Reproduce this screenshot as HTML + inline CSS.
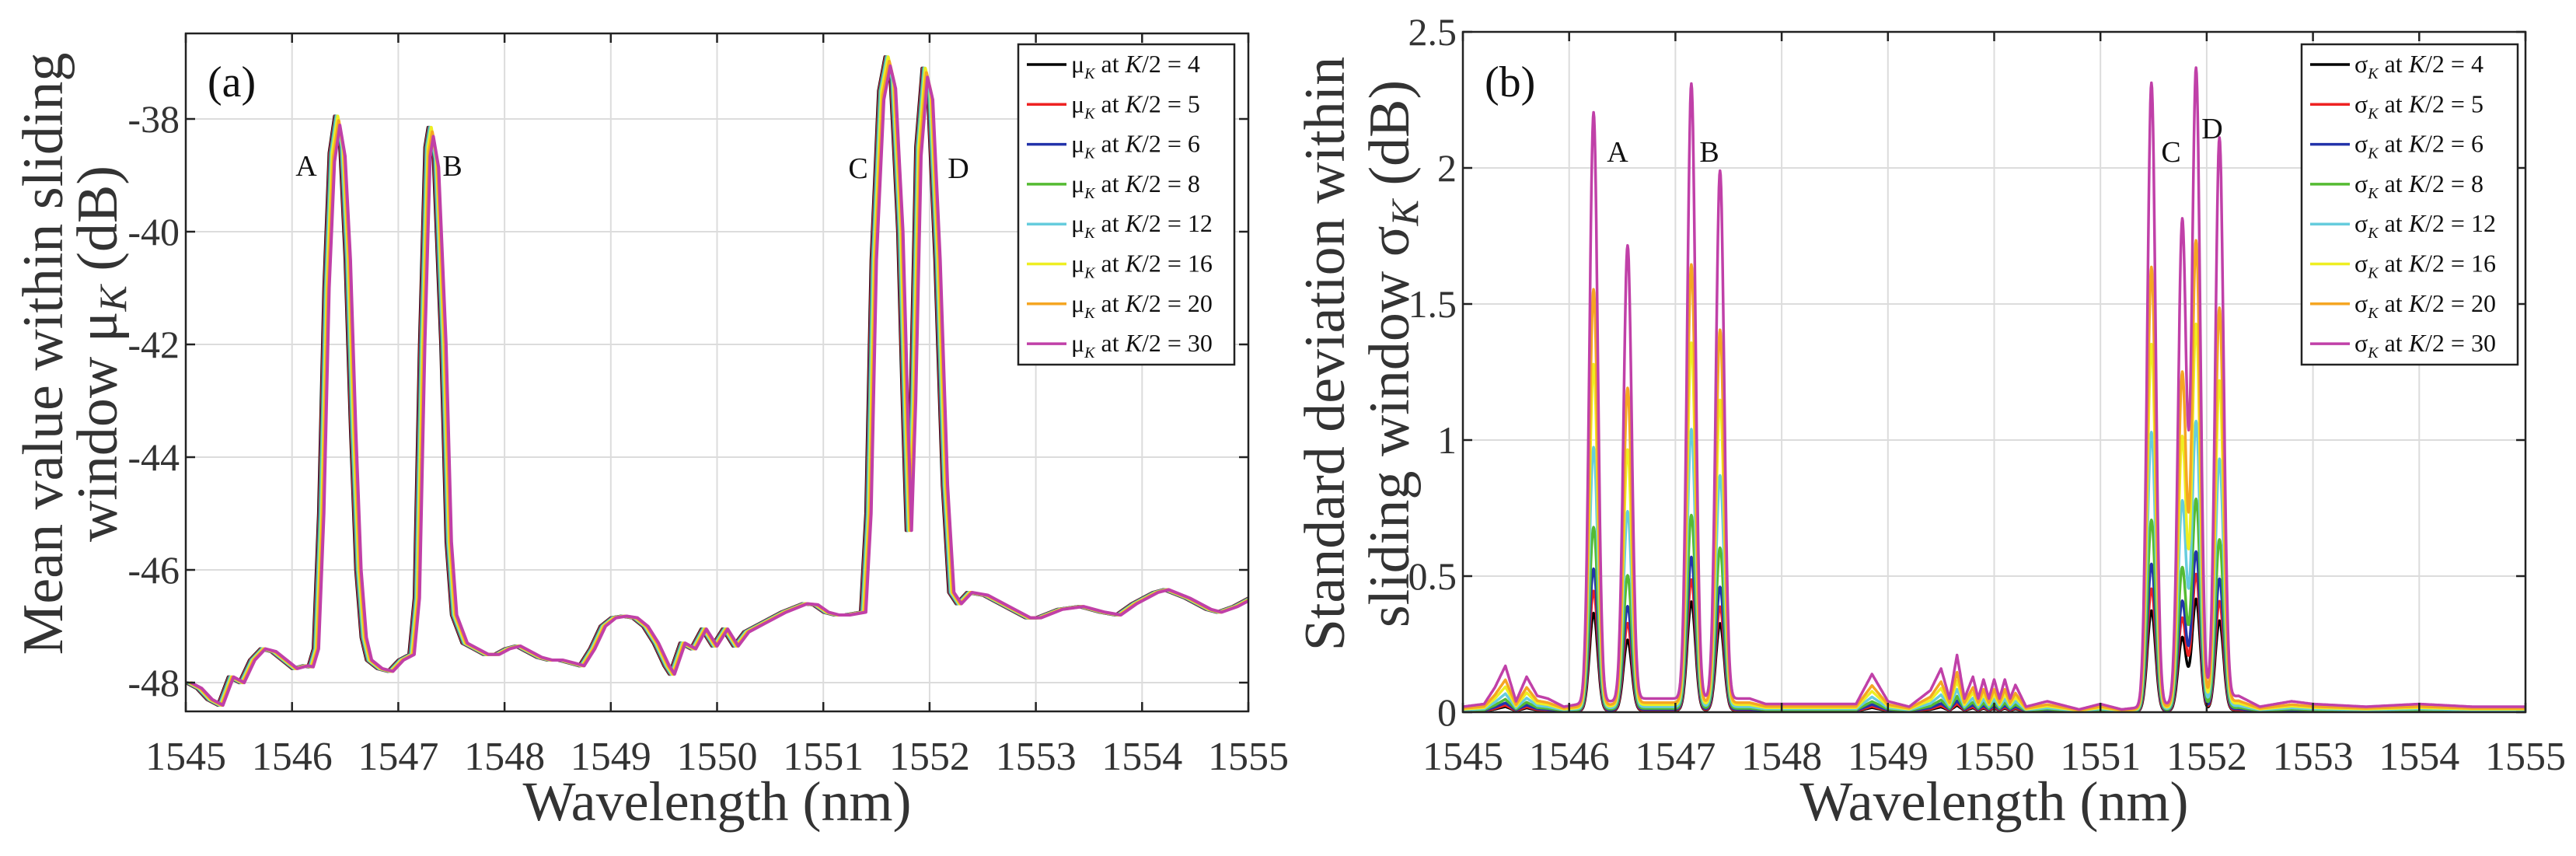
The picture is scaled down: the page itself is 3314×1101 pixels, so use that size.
<!DOCTYPE html>
<html><head><meta charset="utf-8"><style>
html,body{margin:0;padding:0;background:#fff;}
svg{display:block;font-family:"Liberation Serif",serif;}
</style></head><body>
<svg id="fig" width="3314" height="1101" viewBox="0 0 3314 1101" xmlns="http://www.w3.org/2000/svg"></svg>
<script>
const seriesNames = ['4','5','6','8','12','16','20','30'];
const seriesColors = ['#000000','#ee2222','#2233aa','#55bb33','#66ccdd','#eeee22','#f5a623','#c040a8'];
// panel (a) base curve
const muX = [1545,1545.1,1545.2,1545.3,1545.4,1545.5,1545.6,1545.7,1545.8,1545.9,1546.0,1546.1,1546.15,1546.2,1546.25,1546.3,1546.35,1546.4,1546.45,1546.5,1546.55,1546.6,1546.65,1546.7,1546.8,1546.9,1547.0,1547.1,1547.15,1547.2,1547.25,1547.28,1547.33,1547.4,1547.45,1547.5,1547.6,1547.7,1547.8,1547.9,1548.0,1548.1,1548.2,1548.3,1548.4,1548.5,1548.6,1548.7,1548.8,1548.9,1549.0,1549.1,1549.2,1549.3,1549.4,1549.5,1549.55,1549.65,1549.75,1549.85,1549.95,1550.05,1550.15,1550.25,1550.4,1550.6,1550.8,1550.9,1551.0,1551.1,1551.2,1551.35,1551.4,1551.45,1551.52,1551.58,1551.63,1551.7,1551.75,1551.78,1551.82,1551.87,1551.93,1551.98,1552.05,1552.12,1552.18,1552.25,1552.35,1552.5,1552.7,1552.9,1553.0,1553.2,1553.4,1553.6,1553.75,1553.9,1554.1,1554.2,1554.4,1554.6,1554.7,1554.85,1555];
const muY = [-48.0,-48.1,-48.3,-48.4,-47.9,-48.0,-47.6,-47.4,-47.45,-47.6,-47.75,-47.7,-47.72,-47.4,-45,-41,-38.6,-37.95,-38.5,-40.5,-43.5,-46,-47.2,-47.6,-47.75,-47.8,-47.6,-47.5,-46.5,-42,-38.5,-38.15,-38.7,-42,-45.5,-46.8,-47.3,-47.4,-47.5,-47.5,-47.4,-47.35,-47.45,-47.55,-47.6,-47.6,-47.65,-47.7,-47.4,-47.0,-46.85,-46.82,-46.85,-47.0,-47.3,-47.7,-47.85,-47.3,-47.4,-47.05,-47.35,-47.05,-47.35,-47.1,-46.95,-46.75,-46.6,-46.62,-46.75,-46.8,-46.8,-46.75,-45,-40.5,-37.5,-36.9,-37.3,-40,-43.5,-45.3,-43,-38.5,-37.1,-37.5,-40.5,-44.5,-46.4,-46.6,-46.4,-46.45,-46.65,-46.85,-46.85,-46.7,-46.65,-46.75,-46.8,-46.6,-46.4,-46.35,-46.5,-46.7,-46.75,-46.65,-46.5];
const muShift = [0,0.005,0.01,0.015,0.02,0.03,0.04,0.05];
// panel (b)
const sigPeakX = [1546.23,1546.55,1547.15,1547.42,1551.48,1551.77,1551.9,1552.12];
const sig4  = [0.36,0.26,0.40,0.32,0.37,0.27,0.41,0.33];
const sig5  = [0.44,0.32,0.48,0.38,0.45,0.34,0.50,0.40];
const sig6  = [0.52,0.38,0.56,0.45,0.54,0.40,0.58,0.48];
const sig8  = [0.67,0.49,0.71,0.59,0.70,0.52,0.77,0.62];
const sig12 = [0.96,0.72,1.02,0.85,1.02,0.76,1.05,0.91];
const sig16 = [1.26,0.94,1.33,1.12,1.34,0.99,1.40,1.19];
const sig20 = [1.53,1.16,1.61,1.37,1.62,1.22,1.70,1.45];
const sig30 = [2.17,1.67,2.26,1.94,2.29,1.77,2.32,2.06];
const sigBgX = [1545,1545.2,1545.3,1545.4,1545.5,1545.6,1545.7,1545.8,1545.95,1546.1,1546.7,1546.9,1547.7,1547.85,1548.0,1548.2,1548.5,1548.7,1548.85,1549.0,1549.2,1549.4,1549.5,1549.58,1549.65,1549.72,1549.8,1549.85,1549.9,1549.95,1550.0,1550.05,1550.1,1550.15,1550.2,1550.3,1550.5,1550.8,1551.0,1551.2,1552.3,1552.5,1552.8,1553.0,1553.5,1554.0,1554.5,1555];
const sigBgY = [0.02,0.03,0.09,0.17,0.04,0.13,0.06,0.05,0.02,0.03,0.05,0.05,0.05,0.03,0.03,0.03,0.03,0.03,0.14,0.04,0.02,0.08,0.16,0.05,0.21,0.05,0.13,0.05,0.12,0.05,0.12,0.05,0.12,0.05,0.1,0.02,0.04,0.01,0.03,0.01,0.06,0.02,0.04,0.03,0.02,0.03,0.02,0.02];
const sigBgScale = [0.12,0.15,0.2,0.28,0.4,0.55,0.7,1];
const sigSets = [sig4,sig5,sig6,sig8,sig12,sig16,sig20,sig30];

const NS='http://www.w3.org/2000/svg';
const svg=document.getElementById('fig');
function el(tag,attrs,parent){const e=document.createElementNS(NS,tag);for(const k in attrs)e.setAttribute(k,attrs[k]);(parent||svg).appendChild(e);return e;}
function interp(xs,ys,x){if(x<=xs[0])return ys[0];for(let i=1;i<xs.length;i++){if(x<=xs[i]){const t=(x-xs[i-1])/(xs[i]-xs[i-1]);return ys[i-1]+t*(ys[i]-ys[i-1]);}}return ys[ys.length-1];}

function drawPanel(o){
  const g=el('g',{});
  
  
  const X=v=>o.x0+(v-1545)/10*(o.x1-o.x0);
  const Y=v=>o.yb+(v-o.ymin)/(o.ymax-o.ymin)*(o.yt-o.yb);
  for(let v=1545;v<=1555;v++){const l=el('line',{x1:X(v),x2:X(v),y1:o.top,y2:o.bot,stroke:'#dcdcdc','stroke-width':2},g);}
  o.yticks.forEach(v=>{const l=el('line',{x1:o.x0,x2:o.x1,y1:Y(v),y2:Y(v),stroke:'#dcdcdc','stroke-width':2},g);});
  const clip=el('clipPath',{id:o.name+'-clip'},g);el('rect',{x:o.x0,y:o.top,width:o.x1-o.x0,height:o.bot-o.top},clip);
  const lines=el('g',{'clip-path':'url(#'+o.name+'-clip)'},g);
  o.draw(lines,X,Y);
  const b=el('rect',{x:o.x0,y:o.top,width:o.x1-o.x0,height:o.bot-o.top,fill:'none',stroke:'#222','stroke-width':2.5},g);
  
  for(let v=1545;v<=1555;v++){
    el('line',{x1:X(v),x2:X(v),y1:o.bot,y2:o.bot-12,stroke:'#222','stroke-width':2.5},g);
    el('line',{x1:X(v),x2:X(v),y1:o.top,y2:o.top+12,stroke:'#222','stroke-width':2.5},g);
    const t=el('text',{x:X(v),y:990,'font-size':52,'text-anchor':'middle',fill:'#333'},g);t.textContent=v;
    
  }
  o.yticks.forEach((v,i)=>{
    el('line',{x1:o.x0,x2:o.x0+12,y1:Y(v),y2:Y(v),stroke:'#222','stroke-width':2.5},g);
    el('line',{x1:o.x1,x2:o.x1-12,y1:Y(v),y2:Y(v),stroke:'#222','stroke-width':2.5},g);
    const t=el('text',{x:o.x0-8,y:Y(v)+17,'font-size':50,'text-anchor':'end',fill:'#333'},g);t.textContent=o.ylabels[i];
    
  });
  const xt=el('text',{x:(o.x0+o.x1)/2,y:1055,'font-size':72,'text-anchor':'middle',fill:'#333'},g);xt.textContent='Wavelength (nm)';
  
  o.ytitle.forEach((s,i)=>{const t=el('text',{x:0,y:0,'font-size':74,'text-anchor':'middle',fill:'#333',transform:`translate(${o.ytx[i]},${o.ytc}) rotate(-90)`},g);t.innerHTML=s;
    });
  const pl=el('text',{x:o.x0+28,y:124,'font-size':56,fill:'#111'},g);pl.textContent=o.label;
  
  o.peaks.forEach(p=>{const t=el('text',{x:p[1],y:p[2],'font-size':38,'text-anchor':'middle',fill:'#111'},g);t.textContent=p[0];
    });
  const lg=el('g',{},g);
  el('rect',{x:o.lx,y:57,width:278,height:412,fill:'#fff',stroke:'#222','stroke-width':2.5},lg);
  seriesNames.forEach((n,i)=>{
    const e=el('g',{},lg);
    const y=83+i*51.3;
    el('line',{x1:o.lx+11,x2:o.lx+62,y1:y,y2:y,stroke:seriesColors[i],'stroke-width':3.5},e);
    const t=el('text',{x:o.lx+68,y:y+10,'font-size':32,fill:'#111'},e);
    t.innerHTML=o.sym+'<tspan font-size="20" dy="8" font-style="italic">K</tspan><tspan dy="-8"> at </tspan><tspan font-style="italic">K</tspan>/2 = '+n;
  });
}

drawPanel({name:'panel-a',x0:239,x1:1606,top:43,bot:915,yb:878,yt:153,ymin:-48,ymax:-38,
  yticks:[-48,-46,-44,-42,-40,-38],ylabels:['-48','-46','-44','-42','-40','-38'],
  ytitle:['Mean value within sliding','window μ<tspan font-size="50" dy="12" font-style="italic">K</tspan><tspan dy="-12"> (dB)</tspan>'],ytx:[80,150],ytc:455,
  label:'(a)',sym:'μ',lx:1310,
  peaks:[['A',394,226],['B',582,226],['C',1104,229],['D',1233,229]],
  draw:(g,X,Y)=>{
    seriesNames.forEach((n,i)=>{
      const pts=muX.map((x,j)=>X(x+muShift[i]).toFixed(1)+','+Y(muY[j]+(i>=6?(muY[j]>-40?-(i-5)*0.08:0):0)).toFixed(1)).join(' ');
      const p=el('polyline',{points:pts,fill:'none',stroke:seriesColors[i],'stroke-width':4,'stroke-linejoin':'round'},g);
      
    });
  }});

drawPanel({name:'panel-b',x0:1882,x1:3249,top:41,bot:916,yb:916,yt:41,ymin:0,ymax:2.5,
  yticks:[0,0.5,1,1.5,2,2.5],ylabels:['0','0.5','1','1.5','2','2.5'],
  ytitle:['Standard deviation within','sliding window σ<tspan font-size="50" dy="12" font-style="italic">K</tspan><tspan dy="-12"> (dB)</tspan>'],ytx:[1729,1812],ytc:455,
  label:'(b)',sym:'σ',lx:2961,
  peaks:[['A',2081,208],['B',2199,208],['C',2793,208],['D',2846,178]],
  draw:(g,X,Y)=>{
    seriesNames.forEach((n,i)=>{
      const pts=[];
      for(let x=1545;x<=1555.0001;x+=0.005){
        let y=interp(sigBgX,sigBgY,x)*sigBgScale[i];
        sigPeakX.forEach((c,k)=>{const d=(x-c)/0.055;y+=sigSets[i][k]*Math.exp(-d*d);});
        pts.push(X(x).toFixed(1)+','+Y(y).toFixed(1));
      }
      const p=el('polyline',{points:pts.join(' '),fill:'none',stroke:seriesColors[i],'stroke-width':3.5,'stroke-linejoin':'round'},g);
      
    });
  }});
</script>
</body></html>
